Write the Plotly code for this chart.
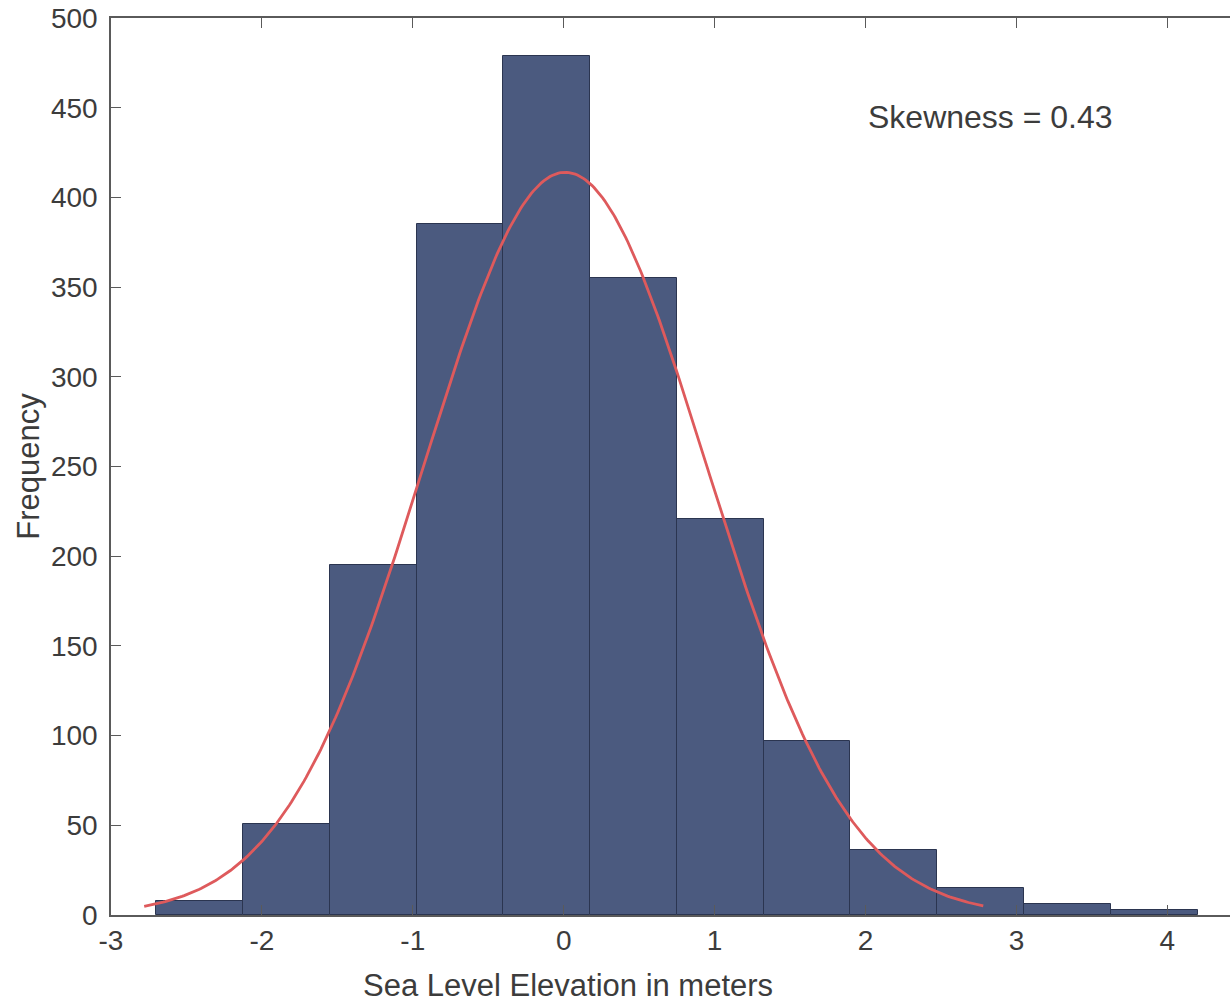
import numpy as np
import plotly.graph_objects as go

# Histogram of sea level elevation anomalies (12 equal-width bins)
bin_edges = [-2.70, -2.125, -1.55, -0.975, -0.40, 0.175, 0.75, 1.325,
             1.90, 2.475, 3.05, 3.625, 4.20]
frequency = [8, 51, 195, 385, 479, 355, 221, 97, 36, 15, 6, 3]

# Fitted normal curve parameters (scaled to counts)
fit_mean = 0.01
fit_std = 0.935
fit_peak = 414
fit_xmin, fit_xmax = -2.78, 2.78

skewness = 0.43

edges = np.array(bin_edges)
centers = (edges[:-1] + edges[1:]) / 2
widths = np.diff(edges)

xs = np.linspace(fit_xmin, fit_xmax, 400)
ys = fit_peak * np.exp(-0.5 * ((xs - fit_mean) / fit_std) ** 2)

font_family = "Liberation Sans, Arial, sans-serif"
text_color = "#3c3c3c"
axis_color = "#5a5a5a"

fig = go.Figure()
fig.add_trace(go.Bar(
    x=centers, y=frequency, width=widths,
    marker=dict(color="#4b5a7f", line=dict(color="#2b3550", width=1)),
    hoverinfo="x+y", showlegend=False,
))
fig.add_trace(go.Scatter(
    x=xs, y=ys, mode="lines",
    line=dict(color="#de5a5c", width=2.8),
    hoverinfo="skip", showlegend=False,
))

fig.add_annotation(
    x=2.0, y=445, xref="x", yref="y",
    text=f"Skewness = {skewness:.2f}",
    showarrow=False, xanchor="left", yanchor="middle",
    font=dict(family=font_family, size=32, color=text_color),
)

# x-axis label, centred under the original axes extent
fig.add_annotation(
    x=0.408, y=0, xref="paper", yref="paper", yshift=-70,
    text="Sea Level Elevation in meters",
    showarrow=False, xanchor="center", yanchor="middle",
    font=dict(family=font_family, size=31, color=text_color),
)

fig.update_layout(
    width=1230, height=1003,
    margin=dict(l=111, r=0, t=18, b=88),
    paper_bgcolor="white", plot_bgcolor="white",
    bargap=0,
    font=dict(family=font_family, color=text_color),
    xaxis=dict(
        range=[-3, 4.415], tickmode="array",
        tickvals=[-3, -2, -1, 0, 1, 2, 3, 4],
        ticktext=["-3", "-2", "-1", "0", "1", "2", "3", "4"],
        ticks="inside", ticklen=10, tickwidth=1.2, tickcolor=axis_color,
        showline=True, linecolor=axis_color, linewidth=1.5, mirror="ticks",
        showgrid=False, zeroline=False,
        tickfont=dict(size=28, color=text_color),
    ),
    yaxis=dict(
        range=[0, 500], tickmode="array",
        tickvals=list(range(0, 501, 50)),
        ticks="inside", ticklen=10, tickwidth=1.2, tickcolor=axis_color,
        showline=True, linecolor=axis_color, linewidth=1.5, mirror=False,
        showgrid=False, zeroline=False, ticklabelstandoff=6,
        tickfont=dict(size=28, color=text_color),
        title=dict(text="Frequency",
                   font=dict(size=31, color=text_color), standoff=2),
    ),
)

fig.write_html("out.html")
